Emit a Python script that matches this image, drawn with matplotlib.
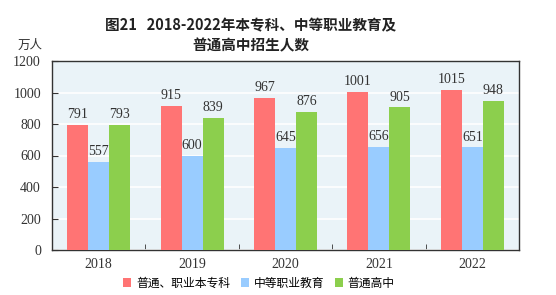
import matplotlib.pyplot as plt
import numpy as np

plt.rcParams['font.family'] = ['Noto Sans CJK SC', 'DejaVu Sans']

years = ['2018', '2019', '2020', '2021', '2022']
higher = [791, 915, 967, 1001, 1015]
secondary_voc = [557, 600, 645, 656, 651]
high_school = [793, 839, 876, 905, 948]
series_names = ['普通、职业本专科', '中等职业教育', '普通高中']
colors = ['#FF7474', '#99CCFF', '#8CCF4D']

fig = plt.figure(figsize=(5.56, 2.95), dpi=100)
ax = fig.add_axes([52 / 556, 1 - 250 / 295, 467 / 556, 189 / 295])
ax.set_facecolor('#EAF3F8')

x = np.arange(len(years))
w = 0.225
num_font = {'family': ['Liberation Serif'], 'size': 10}
for i, (vals, c, name) in enumerate(zip([higher, secondary_voc, high_school], colors, series_names)):
    bars = ax.bar(x + (i - 1) * w, vals, w, color=c, label=name, zorder=3)
    for b, v in zip(bars, vals):
        ax.text(b.get_x() + b.get_width() / 2, v + 25, str(v), ha='center', va='bottom',
                fontdict=num_font, color='#333333')

ax.set_xlim(-0.5, 4.5)
ax.set_ylim(0, 1200)
ax.set_yticks(range(0, 1201, 200))
ax.yaxis.grid(True, color='white', linewidth=1.2, zorder=0)
ax.set_axisbelow(True)
ax.set_xticks(x)
ax.set_xticklabels(years, fontdict=num_font)
ax.set_xticks(np.arange(0.5, 4.5, 1), minor=True)
ax.tick_params(axis='x', which='major', length=0, pad=6)
ax.tick_params(axis='x', which='minor', direction='in', length=4, color='#333333')
ax.tick_params(axis='y', direction='in', length=4, color='#333333', pad=8)
for lab in ax.get_yticklabels():
    lab.set_fontfamily(['Liberation Serif'])
    lab.set_fontsize(10)
    lab.set_color('#333333')
for lab in ax.get_xticklabels():
    lab.set_color('#333333')
for s in ax.spines.values():
    s.set_color('#333333')
    s.set_linewidth(1)

fig.text(251 / 556, 1 - 25 / 295, '图21   2018-2022年本专科、中等职业教育及', ha='center', va='center',
         fontsize=10.5, fontweight='bold', color='#222222')
fig.text(251 / 556, 1 - 45 / 295, '普通高中招生人数', ha='center', va='center',
         fontsize=10.5, fontweight='bold', color='#222222')
fig.text(30 / 556, 1 - 45 / 295, '万人', ha='center', va='center', fontsize=9, color='#333333')

fig.legend(loc='center', bbox_to_anchor=(259 / 556, 1 - 283 / 295), ncol=3, frameon=False,
           fontsize=8.5, handlelength=0.7, handleheight=0.7, handletextpad=0.4, columnspacing=0.9)

fig.savefig('out.png', dpi=100)
